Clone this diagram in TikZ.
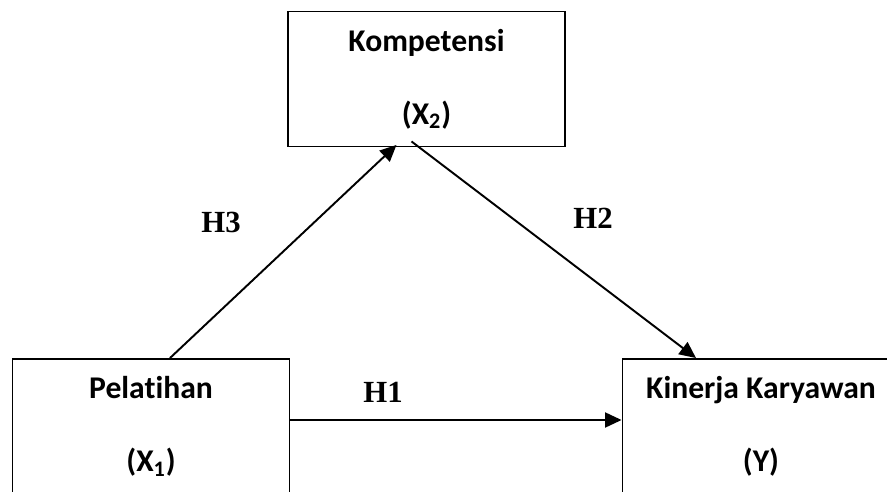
\documentclass[tikz,border=0pt]{standalone}
\usepackage{fontspec}
\setmainfont{Carlito}[Ligatures=NoCommon]
\newfontfamily\hfont{Liberation Serif}
\usetikzlibrary{arrows.meta}
\tikzset{
	varbox/.style={draw, line width=1.1pt, minimum width=5.54cm, minimum height=2.7cm,
		align=center, font={\fontsize{18}{41.5}\selectfont\bfseries}},
	hlabel/.style={font={\fontsize{17.5}{20}\selectfont\hfont\bfseries}},
	path/.style={-{Triangle[length=3.3mm, width=3mm]}, line width=1.1pt}
}
\begin{document}
\begin{tikzpicture}[x=0.02cm, y=0.02cm]
	\useasboundingbox (0, 0) rectangle (887, 491);
	\clip (0, 0) rectangle (887, 491);
	
	\node [varbox] (komp) at (426.5, 412) {Kompetensi\\(X\textsubscript{2})};
	\node [varbox] (pel) at (151, 64.5) {Pelatihan\\(X\textsubscript{1})};
	\node [varbox] (kin) at (761, 64.5) {Kinerja Karyawan\\(Y)};
	
	\draw [path] ([yshift=0.13cm]pel.east) -- ([yshift=0.13cm]kin.west);
	\draw [path] ([xshift=0.38cm]pel.north) -- ([xshift=-0.6cm, yshift=0.05cm]komp.south);
	\draw [path] ([xshift=-0.3cm, yshift=0.12cm]komp.south) -- ([xshift=-1.3cm]kin.north);
	
	\node [hlabel] (h1) at (383, 99) {H1};
	\node [hlabel] (h2) at (593, 273) {H2};
	\node [hlabel] (h3) at (221, 269) {H3};
	
\end{tikzpicture}
\end{document}
